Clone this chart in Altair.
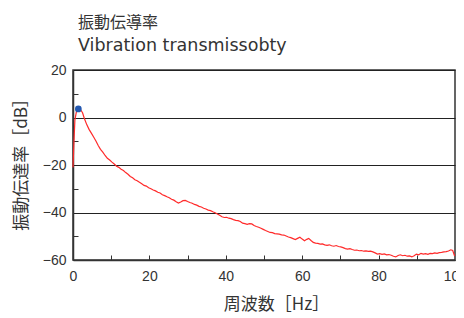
import altair as alt
import pandas as pd

freq = [0, 0.2, 0.5, 0.9, 1.3, 1.6, 2.0, 2.5, 3.0, 3.6, 4.2, 4.8, 5.4, 6.0, 6.6, 7.2, 7.8, 8.4, 9.0, 9.6,
        10.2, 10.8, 11.4, 12.0, 12.6, 13.2, 13.8, 14.4, 15.0, 15.6, 16.2, 16.8, 17.4, 18.0, 18.6, 19.2, 19.8,
        20.4, 21.0, 21.6, 22.2, 22.8, 23.4, 24.0, 24.6, 25.2, 25.8, 26.4, 27.0, 27.6, 28.2, 28.8, 29.4,
        30.0, 30.6, 31.2, 31.8, 32.4, 33.0, 33.6, 34.2, 34.8, 35.4, 36.0, 36.6, 37.2, 37.8, 38.4, 39.0,
        39.6, 40.2, 40.8, 41.4, 42.0, 42.6, 43.2, 43.8, 44.4, 45.0, 45.6, 46.2, 46.8, 47.4, 48.0, 48.6,
        49.2, 49.8, 50.4, 51.0, 51.6, 52.2, 52.8, 53.4, 54.0, 54.6, 55.2, 55.8, 56.4, 57.0, 57.6, 58.2,
        58.8, 59.4, 60.0, 60.6, 61.2, 61.7, 62.3, 62.9, 63.5, 64.1, 64.7, 65.3, 65.9, 66.5, 67.1, 67.7,
        68.3, 68.9, 69.5, 70.1, 70.7, 71.3, 71.9, 72.5, 73.1, 73.7, 74.3, 74.9, 75.5, 76.1, 76.7, 77.3,
        77.9, 78.5, 79.1, 79.7, 80.3, 80.9, 81.5, 82.1, 82.7, 83.3, 83.9, 84.5, 85.1, 85.7, 86.3, 86.9,
        87.5, 88.1, 88.7, 89.3, 89.9, 90.5, 91.1, 91.7, 92.3, 92.9, 93.5, 94.1, 94.7, 95.3, 95.9, 96.5,
        97.1, 97.7, 98.3, 98.9, 99.4, 99.9]
gain = [-21.0, -12.0, -1.0, 2.5, 3.5, 3.6, 3.2, 2.0, -0.5, -3.0, -5.0, -6.6, -8.2, -9.9, -11.8, -13.4, -14.6,
        -16.0, -17.2, -17.9, -18.8, -19.6, -20.5, -21.0, -21.8, -22.3, -23.2, -23.9, -24.8, -25.4, -26.2,
        -26.6, -27.3, -27.9, -28.6, -28.9, -29.6, -30.0, -30.5, -30.9, -31.5, -31.8, -32.5, -32.9, -33.4,
        -33.8, -34.4, -34.8, -35.5, -36.0, -35.6, -35.0, -34.9, -35.4, -35.8, -36.1, -36.6, -36.9, -37.4,
        -37.7, -38.2, -38.5, -39.0, -39.2, -39.7, -40.1, -40.6, -41.2, -41.8, -42.1, -42.0, -42.4, -42.6,
        -43.0, -43.3, -43.4, -43.8, -44.5, -44.7, -45.0, -44.7, -44.8, -45.5, -45.9, -46.2, -46.6, -47.1,
        -47.6, -48.0, -48.4, -48.5, -48.9, -49.0, -49.1, -49.4, -49.5, -49.9, -50.3, -50.6, -51.0, -51.4,
        -50.9, -50.4, -51.2, -51.9, -51.3, -50.9, -51.8, -52.6, -52.9, -53.0, -53.3, -53.2, -53.6, -53.8,
        -53.6, -54.0, -54.2, -53.9, -54.3, -54.5, -54.8, -55.2, -55.4, -55.2, -55.6, -55.9, -55.8, -56.1,
        -56.0, -56.3, -56.2, -56.4, -56.3, -56.6, -57.0, -57.5, -57.3, -57.6, -57.4, -57.8, -57.7, -58.0,
        -58.4, -58.7, -58.1, -57.8, -58.2, -58.0, -58.4, -58.3, -58.7, -58.2, -57.5, -57.8, -57.2, -57.5,
        -57.3, -57.6, -57.2, -57.3, -57.0, -57.2, -56.9, -56.8, -56.6, -56.5, -56.2, -55.7, -56.0, -58.3]

peak_freq = [1.4]
peak_gain = [3.6]

x_major = [0, 20, 40, 60, 80, 100]
x_minor = [10, 20, 30, 40, 50, 60, 70, 80, 90]
y_major = [-60, -40, -20, 0, 20]
y_minor = [-50, -30, -10, 10]

JP = "Noto Sans CJK JP"
LATIN = "DejaVu Sans"
NUM = "Liberation Sans"

df = pd.DataFrame({"f": freq, "g": gain})
pk = pd.DataFrame({"f": peak_freq, "g": peak_gain})

xs = alt.Scale(domain=[0, 100], nice=False)
ys = alt.Scale(domain=[-60, 20], nice=False)

line = alt.Chart(df).mark_line(color="#ff2a2a", strokeWidth=1.2).encode(
    x=alt.X("f:Q", scale=xs, axis=alt.Axis(
        values=x_major, ticks=False, grid=False, domainColor="#333", domainWidth=1.5,
        labelFont=NUM, labelFontSize=14, labelColor="#333", labelPadding=9, labelFlush=False,
        title="周波数［Hz］", titleFont=JP, titleFontSize=17, titleFontWeight="normal",
        titleColor="#333", titlePadding=13, titleX=203)),
    y=alt.Y("g:Q", scale=ys, axis=alt.Axis(
        values=y_major, ticks=False, grid=True, gridColor="#222", gridWidth=1,
        domainColor="#333", domainWidth=1.5,
        labelFont=NUM, labelFontSize=14, labelColor="#333", labelPadding=7,
        title="振動伝達率［dB］", titleFont=JP, titleFontSize=17, titleFontWeight="normal",
        titleColor="#333", titlePadding=12, titleY=90)),
)

peak = alt.Chart(pk).mark_circle(color="#2358b0", size=45, opacity=1).encode(
    x=alt.X("f:Q", scale=xs, axis=alt.Axis(
        orient="bottom", offset=-5, values=x_minor, ticks=True, tickSize=5, tickColor="#333",
        labels=False, domain=False, grid=False, title=None)),
    y=alt.Y("g:Q", scale=ys, axis=alt.Axis(
        orient="left", offset=-5, values=y_minor, ticks=True, tickSize=5, tickColor="#333",
        labels=False, domain=False, grid=False, title=None)),
)

chart = alt.layer(line, peak).resolve_axis(x="independent", y="independent").properties(
    width=382, height=190,
    autosize=alt.AutoSizeParams(type="none"),
    padding={"left": 65, "top": 62, "right": 1, "bottom": 54},
    title=alt.TitleParams(
        text="振動伝導率", subtitle="Vibration transmissobty",
        anchor="start", frame="group", dx=5,
        font=JP, fontSize=16, fontWeight="normal", color="#333",
        subtitleFont=LATIN, subtitleFontSize=17.5, subtitleColor="#333", subtitlePadding=6,
        offset=9),
).configure_view(stroke="#333", strokeWidth=1.5)

chart.save("out.html", embed_options={"renderer": "svg", "actions": False})
